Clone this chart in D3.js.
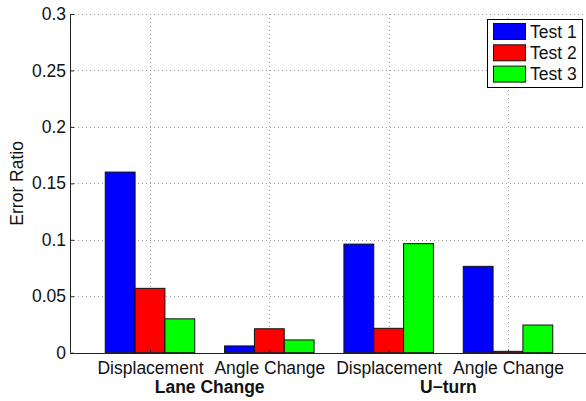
<!DOCTYPE html>
<html>
<head>
<meta charset="utf-8">
<script src="https://cdn.jsdelivr.net/npm/d3@7"></script>
<style>
  html, body { margin: 0; padding: 0; background: #fff; }
  svg { display: block; font-family: "Liberation Sans", Arial, Helvetica, sans-serif; }
</style>
</head>
<body>
<svg id="chart" width="586" height="401"></svg>
<script>
// Per-category tick labels and the scenario each pair belongs to
const categories = ["Displacement", "Angle Change", "Displacement", "Angle Change"];
const scenarios = ["Lane Change", "U\u2212turn"];
const seriesNames = ["Test 1", "Test 2", "Test 3"];
const seriesColors = ["#0000ff", "#ff0000", "#00ff00"];

// Error ratio for each test, one entry per category
const test1 = [0.160, 0.0060, 0.0962, 0.0765];
const test2 = [0.0570, 0.0212, 0.0216, 0.0012];
const test3 = [0.0300, 0.0113, 0.0966, 0.0245];
const yTicks = [0, 0.05, 0.1, 0.15, 0.2, 0.25, 0.3];

const series = [test1, test2, test3];

const svg = d3.select("#chart");
const plotL = 70, plotT = 14, plotB = 352.7, plotR = 588;
const fs = 17.5;

// Category positions 1..4 on a linear axis (MATLAB-style bar groups)
const x = d3.scaleLinear().domain([1, 4]).range([150, 508]);
const unit = x(2) - x(1);
const y = d3.scaleLinear().domain([0, 0.3]).range([plotB, plotT]);
const barW = unit / 4;

// Grid: horizontal and vertical dotted lines
const grid = svg.append("g").attr("stroke", "#9a9a9a").attr("stroke-dasharray", "1,3").attr("stroke-width", 1);
yTicks.forEach(t => {
  if (t === 0) return;
  grid.append("line").attr("x1", plotL).attr("x2", plotR).attr("y1", Math.round(y(t)) + 0.5).attr("y2", Math.round(y(t)) + 0.5);
});
categories.forEach((c, i) => {
  const px = Math.round(x(i + 1)) + 0.5;
  grid.append("line").attr("x1", px).attr("x2", px).attr("y1", plotT).attr("y2", plotB);
});

// Bars
series.forEach((vals, s) => {
  svg.append("g").selectAll("rect").data(vals).join("rect")
    .attr("x", (d, i) => x(i + 1) + (s - 1.5) * barW)
    .attr("width", barW)
    .attr("y", d => y(d))
    .attr("height", d => y(0) - y(d))
    .attr("fill", seriesColors[s])
    .attr("stroke", "#111")
    .attr("stroke-width", 1);
});

// Y axis
const yAxis = d3.axisLeft(y).tickValues(yTicks).tickSize(-4).tickPadding(4)
  .tickFormat(d => d3.format("~g")(d));
const gy = svg.append("g").attr("transform", `translate(${plotL},0)`).call(yAxis);
gy.select(".domain").attr("stroke", "#222").attr("d", `M0.5,${plotT}V${plotB}`);
gy.selectAll(".tick line").attr("stroke", "#222").attr("x1", 0.5);
gy.selectAll("text").attr("font-size", fs).attr("fill", "#111").attr("font-family", "Liberation Sans, Arial, sans-serif");

// X axis
const xAxis = d3.axisBottom(x).tickValues([1, 2, 3, 4]).tickSize(-4).tickPadding(8)
  .tickFormat((d, i) => categories[i]);
const gx = svg.append("g").attr("transform", `translate(0,${Math.round(plotB) + 0.5})`).call(xAxis);
gx.select(".domain").attr("stroke", "#222").attr("d", `M${plotL},0H${plotR}`);
gx.selectAll(".tick line").attr("stroke", "#222");
gx.selectAll("text").attr("font-size", fs).attr("fill", "#111").attr("font-family", "Liberation Sans, Arial, sans-serif");

// Scenario labels centred under each pair of categories
scenarios.forEach((s, i) => {
  svg.append("text")
    .attr("x", (x(2 * i + 1) + x(2 * i + 2)) / 2)
    .attr("y", 393)
    .attr("text-anchor", "middle")
    .attr("font-size", fs)
    .attr("font-weight", "bold")
    .attr("fill", "#111")
    .text(s);
});

// Y axis title
svg.append("text")
  .attr("transform", `translate(23,${(plotT + plotB) / 2}) rotate(-90)`)
  .attr("text-anchor", "middle")
  .attr("font-size", fs)
  .attr("fill", "#111")
  .text("Error Ratio");

// Legend
const lg = svg.append("g");
lg.append("rect").attr("x", 487.5).attr("y", 19.5).attr("width", 95).attr("height", 68)
  .attr("fill", "#fff").attr("stroke", "#000").attr("stroke-width", 1);
seriesNames.forEach((n, i) => {
  const cy = 31.5 + i * 21.3;
  lg.append("rect").attr("x", 493.5).attr("y", cy - 8).attr("width", 32).attr("height", 16)
    .attr("fill", seriesColors[i]).attr("stroke", "#111");
  lg.append("text").attr("x", 530).attr("y", cy + 6).attr("font-size", fs).attr("fill", "#111").text(n);
});
</script>
</body>
</html>
